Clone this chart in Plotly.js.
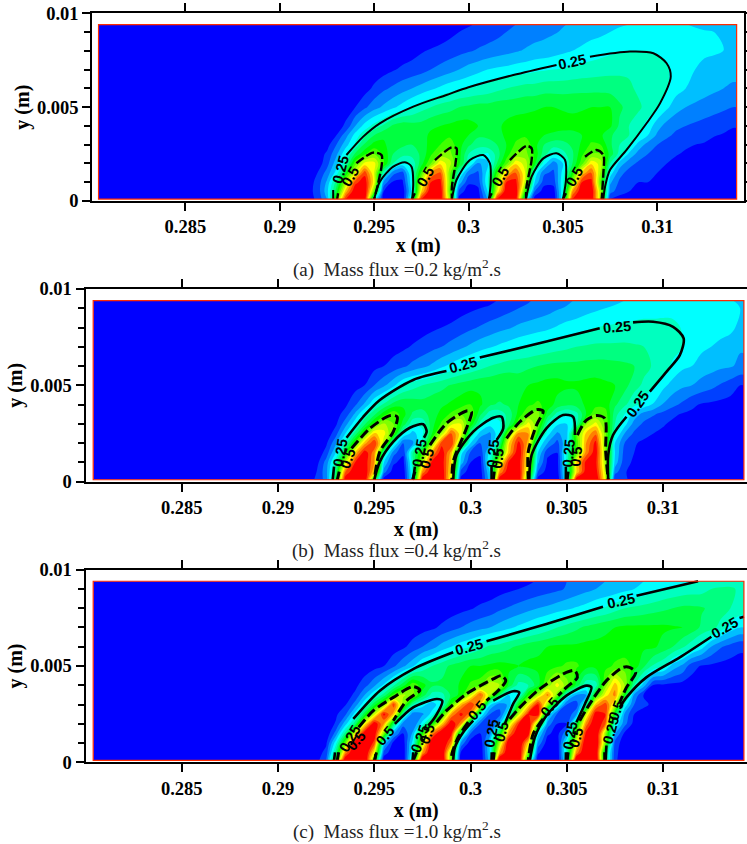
<!DOCTYPE html>
<html><head><meta charset="utf-8">
<script src="https://cdn.plot.ly/plotly-2.35.2.min.js"></script>
<style>html,body{margin:0;padding:0;background:#fff}#c{width:747px;height:844px}</style>
</head><body><div id="c"></div>
<script>
const xMm=[291.5,292,292.5,293,293.5,294,294.5,295,295.5,296,296.5,297,297.5,298,298.5,299,299.5,300,300.5,301,301.5,302,302.5,303,303.5,304,304.5,305,305.5,306,306.5,307,307.5,308,308.5,309,309.5,310,310.5,311,311.5,312,312.5,313,313.5,314];
const yMm=[0.1,0.5,1,1.5,2,2.5,3,3.5,4,5,6,7,8,9,9.4];
const fieldX=[280.4,314.2];
const fieldY=[0.1,9.4];
const zA=[
[3,6,15,48,80,85,85,25,2,0, 0,30,80,85,85,55,3,0,2,15, 82,85,85,28,2,0,0,25,80,85, 85,55,5,3,2,2,1,1,0,0, 0,0,0,0,0,0],
[3,7,18,38,68,86,86,50,5,1, 1,22,65,86,86,50,8,2,3,20, 60,86,86,45,10,2,2,25,70,86, 86,55,12,7,5,5,5,3,3,2, 2,2,1,1,1,1],
[2,7,16,32,55,78,84,62,14,4, 4,24,58,80,82,52,18,6,7,24, 52,80,82,58,20,7,7,24,52,80, 82,48,16,9,6,5,5,3,3,2, 2,2,1,1,1,1],
[0,5,12,22,40,60,78,60,28,12, 8,26,46,70,76,52,27,12,9,22, 45,66,76,60,24,11,9,22,42,66, 76,54,23,12,8,6,5.5,5,4,3, 2.5,2,2,1,1,1],
[.5,2,8,18,29,48,62,62,46,30, 23,26,38,50,64,57,42,26,14,18, 35,48,64,58,42,22,12,20,35,48, 64,58,30,18,12,9,7,6,5,3, 2,2,2,1,1,1],
[0,2,6,14,24,36,44,50,44,35, 32,32,36,44,51,52,42,30,26,24, 32,42,51,52,44,32,25,28,34,44, 50,50,38,28,19,13,10,8,7,5.5, 4,3.5,3,3,2,2],
[0,1,3,10,18,26,36,42,41,37, 36,35,37,42,45,48,42,36,32,33, 35,40,46,49,42,35,32,33,36,41, 46,45,36,30,26,18,13,10,8,7, 6,5,4.5,4,3.5,3],
[0,0,1.5,5,13,22,29,35,39,40, 39,36,38,41,43,44,43,40,36,36, 38,41,43,44,41,40,39,38,38,40, 42,41,36,32,30,25,20,14,11,9, 8,7.2,6.6,5.2,4.7,4.3],
[0,0,.5,2.5,6,15,22,27,31,36, 38,37,37,39,40,41,42,42,40,39, 39,41,42,42,42,42,42,42,42,42, 42,42,41,34,30,27,23,17,13,11, 10,9,8,7,6,5.2],
[0,0,0,.5,2.5,5,9,13,16,19, 22,25,28,30,32,33,35,36,37,37, 38,38,38.5,39,39.5,40,40,39.5,39,39.5, 40,40,40,36,33,31,28,25.5,21,17, 15,14,13,12,11,10],
[0,0,0,0,0,1,3,6,9,11, 13,15,17,19,21,23,24,25,26,27, 28.5,30,31,32,32,33,33,33,33.5,33.5, 33.5,33.5,33,32,31,29,27.5,26.5,25.5,22, 20,18,17,16,15,14.5],
[0,0,0,0,0,0,1,2,3,4.5, 6,7,8,10,11.5,13,15,17,18.5,20, 21,21.5,22.5,23,24,24.5,25,25.5,26,27, 27.5,28,28.5,29,29,28.5,28,27,25.5,23, 21.5,20,18.5,17.8,17,16],
[0,0,0,0,0,0,0,0,.5,1, 2,3,4.5,5.5,6.5,7.5,8.5,9.5,10.5,11.5, 12.5,13.5,14.5,15.5,16.5,17,18,19,20,21, 22,23,24,24.5,25,25,25,24.5,23.5,23, 22,21.5,21,20.7,20.2,18.5],
[0,0,0,0,0,0,0,0,0,0, 0,.3,.7,1.2,2,3.5,5,6,7,7.5, 8.5,10,11,12,13,13.7,14.5,15.5,16.5,17.5, 18.5,19,20,20.7,21,21.5,21.7,22,22,21.5, 21,20.8,20.5,20,18.5,17],
[0,0,0,0,0,0,0,0,0,0, 0,0,.3,.7,1.2,2,3,4.5,5.5,6.5, 7.5,8.5,10,11,12,12.7,13.5,14.7,15.5,16.5, 17.3,18,19,19.6,20,20.5,20.6,20.6,20.6,20.5, 20.1,19.5,18.5,17.5,16.5,15.5]
];
const zB=[
[2,6,12,38,85,88,88,40,2,0, 0,25,85,88,88,58,3,0,1,18, 85,88,88,45,2,0,0,25,85,88, 88,60,5,5.5,4,3,2,1,1,0, 0,0,0,0,0,0],
[2,5,13,33,75,86,86,65,12,2, 1,26,72,86,86,62,8,2,2,20, 70,86,86,55,10,2,2,26,65,84, 84,58,12,5.5,3,2.5,2,2,1,1, 1,1,1,1,1,1],
[0,3,12,28,58,80,84,70,20,6, 3,28,56,82,84,65,18,5,3,25, 58,82,84,60,16,4,3,26,65,82, 82,55,18,7,4,3,2,2,2,2, 1,1,1,1,1,1],
[0,1,7,20,40,66,84,72,30,12, 6,30,46,70,84,68,22,9,6,22, 42,68,86,62,20,6,5,26,48,72, 84,54,20,8,5,3.5,2.5,2,2,2, 1,1,1,1,1,1],
[0,0,4,14,28,47,68,80,56,26, 10,14,28,52,78,80,50,20,10,14, 32,65,82,68,25,15,8,20,46,70, 82,52,20,10,5.5,4,3,2,2,2, 1,1,1,1,1,1],
[0,0,1,8,20,32,48,66,62,48, 25,18,24,40,56,76,62,30,18,14, 24,52,72,70,42,22,14,18,48,66, 74,52,26,15,9,6.5,5,4,3.5,3, 2.5,2,2,1.5,1,1],
[0,0,1.5,4,13,23,34,46,56,50, 38,26,26,38,46,58,60,44,28,22, 24,34,49,62,50,28,21,20,28,54, 62,50,30,22,13,9,7.5,5.5,4,3, 2.5,2,2,1.5,1.5,1],
[0,0,1,3,7,16,26,34,43,49, 42,34,33,37,42,46,50,50,36,27, 27,32,42,50,52,38,28,24,28,40, 50,48,32,25,18,13,10.5,8.5,6,4.5, 4,3.5,3,2.5,2,1.5],
[0,0,0,1.5,4,9,16,25,31,37, 39,38,37,38,39,41,43,45,41,36, 34,36,40,44,46,43,38,36,37,41, 43,43,36,31,26.5,23,19.5,14.5,11.5,9, 6,4.5,4,3.5,3,2.5],
[0,0,0,.5,1.5,3,5,10,14,19, 25,28,30,32,33.5,35.5,37,38,39,39, 40,39,37.5,40,41,42,42,41,41,41.5, 42,41,40,37,32,29,25.5,21.5,18,16, 15,13,11.5,9.5,7.5,5],
[0,0,0,0,0,1,2,3.5,5,7, 9,11.5,13.5,16,19,21.5,24,26,28,30, 31.5,33,33.5,34,35,36,36.5,36.5,36.5,37, 37,37,36.5,36,35,31.5,29.5,27.5,24,21, 20,18,17,16,15.5,14],
[0,0,0,0,0,0,0,1,2,3, 4,5.5,7,8.5,10,12,14,16,18,19.5, 21,22.5,24,25,26,27,28,29,30,30.5, 31,31,31,31,30.5,30,29,28,27,25, 22.5,21,20,19,18,15.5],
[0,0,0,0,0,0,0,0,0,0, 1,2,3,4,5,6,7.5,9,10.5,12, 13.5,14.5,16,17,18,19,20.5,22,23,24, 25,25.5,26,26.5,27,27.5,27.5,27.5,27,24.5, 24,23,22,21.5,21,19],
[0,0,0,0,0,0,0,0,0,0, 0,0,0,0,1,2,3,4,5,6, 7,8.5,10,11,12,13,14.5,15.5,16.5,18, 19,20,20.5,21,21.5,22,22,22.5,22.5,22.5, 22.5,22.5,22,21.5,21,20],
[0,0,0,0,0,0,0,0,0,0, 0,0,0,0,0,0,1,2,3,3.5, 5.5,6.5,8,9.5,11,12,13,14,15.5,16.5, 17.5,18.5,19.3,20,20.5,20.8,21,21,21,21, 21,21,20.8,20.5,20.2,19.5]
];
const zC=[
[1,3,10,42,88,92,92,45,1,0, 0,30,90,92,92,50,1,0,0,18, 90,92,92,35,1,0,0,24,90,92, 92,35,6,2,1,0,0,0,0,0, 0,0,0,0,0,0],
[0,2,7,32,72,90,90,62,8,1, 1,25,70,90,90,52,4,0,0,20, 68,90,90,52,6,0,0,28,72,90, 90,34,7,1,0,0,0,0,0,0, 0,0,0,0,0,0],
[0,0,4,23,50,86,90,78,20,3, 2,22,55,88,90,72,14,2,1,20, 55,88,90,65,14,2,1,25,60,88, 90,52,8,2,1,0,0,0,0,0, 0,0,0,0,0,0],
[0,0,1,12,32,60,85,85,52,16, 5,16,44,72,88,82,33,10,5,12, 38,72,88,85,22,6,3,14,50,82, 90,55,16,4,2,1,0,0,0,0, 0,0,0,0,0,0],
[0,0,2,5.5,18,33,62,85,70,35, 12,10,22,42,65,86,72,25,10,7, 18,58,80,88,52,13,5,5,37,72, 88,75,25,12,3,2,1,0,0,0, 0,0,0,0,0,0],
[0,0,1,4,9,22,38,58,82,68, 30,12,14,22,42,70,82,72,25,10, 8,26,58,80,85,24,9,6,14,58, 84,80,40,14,5,3,1,0,0,0, 0,0,0,0,0,0],
[0,0,0,1.5,4.5,12,24,38,52,78, 52,30,22,17,24,46,68,80,66,21, 12,16,42,62,82,55,28,10,7,28, 68,78,58,24,10,6,4,2,1,0, 0,0,0,0,0,0],
[0,0,0,.5,2.5,6,15,24,32,46, 56,52,38,28,28,36,42,58,76,56, 36,20,24,44,56,72,52,25,15,15, 44,62,72,42,14,4.5,3,2,2,1, 1,1,1,0,0,0],
[0,0,0,0,1,3.5,8,14,21,29, 38,49,42,36,36,37,41,46,48,58, 56,38,28,30,38,52,62,52,38,26, 27,52,68,55,30,17,4.5,4,3.5,3, 2.5,2.5,2,2,1.5,1.5],
[0,0,0,0,0,.5,1.5,3,5,9, 14,19,26,30,33,36,38,40,40,41, 42,41,40,41,41,42,44,46,46,42, 42,43,46,48,43,36,29,26,18,14, 7,4.5,4,3.5,3,3],
[0,0,0,0,0,0,0,.5,1.5,2.5, 4,7,10,13,17,20,23,25,28,31, 32,34,36,38,39,40,41,41,41,41.5, 41.5,41.5,41.5,41,41,41,41,38,35,31, 26.5,22,15,10.5,8,6],
[0,0,0,0,0,0,0,0,0,0, 1,2,3,4,6,8,10,12,13.5,15, 17,19,21,23,25,27.5,30,32,34,36, 37.5,39,40,41,41,41,41,41,40.5,40, 38,34,32,28,23,20],
[0,0,0,0,0,0,0,0,0,0, 0,0,0,.5,1.5,2.5,3.5,4.5,6,7, 9,10.5,12,13.5,15,16,17.5,19,20.5,22, 24,25.5,28,30,31,32,33,34,35,36, 36,35.5,34,32.5,30,28],
[0,0,0,0,0,0,0,0,0,0, 0,0,0,0,0,0,0,0,1,2, 3,4,5,6,7,8,9,10.5,12,13.5, 15,16,17,18.5,20,21,23,25,26,27, 27.5,28,30,31,31,29],
[0,0,0,0,0,0,0,0,0,0, 0,0,0,0,0,0,0,0,0,0, 1,2,3,4,5.5,7,8.5,10,11,12, 13.5,15,16,17,18,20,21,21.5,22.5,23.5, 24.5,25.5,26,26.5,27,27]
];
const solidA=[[292.83,.1],[292.83,.59],null,[293.53,2.45],[294.42,3.43],[295.3,4.14],[297.07,5.03],[298.83,5.65],[300,6.06],[302.37,6.71],[304.66,7.25],null,[306.43,7.69],[308.55,7.96],[309.79,7.87],[310.49,7.34],[310.71,6.63],[310.14,5.2],[309.43,4.14],[308.37,2.72],[307.49,1.65],[307.23,.76],[307.14,.1],null,
[295,.1],[295.3,1.03],[296.01,1.83],[296.63,2.06],[296.98,1.83],[297.07,.94],[297.01,.1],null,
[299.12,.1],[299.36,1.12],[300.07,2.18],[300.78,2.45],[301.13,2.01],[301.17,.94],[301.08,.1],null,
[303.04,.1],[303.34,1.3],[303.96,2.27],[304.66,2.54],[305.11,2.18],[305.16,1.12],[305,.1]];
const dashA=[[293.04,.1],[293.09,.41],null,[294.06,2.01],[294.95,2.58],[295.39,2.45],[295.39,1.83],[295.21,.94],[295,.1],null,
[297.01,.1],[297.15,.41],null,[298.22,2.18],[299.1,2.86],[299.36,2.81],[299.31,2.01],[299.12,.76],[299.12,.1],null,
[301.08,.1],[301.22,.41],null,[302.19,2.18],[303.07,2.93],[303.34,2.81],[303.34,2.18],[303.07,.76],[303.04,.1],null,
[305,.1],[305.16,.41],null,[306.17,2.36],[306.78,2.72],[307.14,2.45],[307.14,1.47],[307.05,.1]];
const solidB=[[292.84,.1],[292.91,.78],null,[293.56,2.28],[294.43,3.37],[295.29,4.24],[297.02,5.28],[298.75,5.74],null,[300.48,6.44],[303.94,7.27],[306.71,7.96],null,[308.44,8.27],[309.48,8.3],[310.52,8.04],[311.07,7.44],[310.87,6.57],[310.26,5.8],[309.31,4.67],null,[308.1,3.37],[307.4,2.42],[307.15,1.38],[307.15,.1],null,
[295,.1],[295.29,1.04],[295.99,2.08],[296.85,2.8],[297.54,2.98],[297.72,2.6],[297.58,2.28],null,[297.02,.1],[297.11,.78],null,
[299.1,.1],[299.27,1.38],[300.14,2.6],[301.18,3.32],[301.61,3.37],[301.7,2.77],[301.35,2.16],null,[301.09,.1],[301.09,.78],null,
[303.05,.1],[303.17,1.38],[303.94,2.77],[304.81,3.46],[305.33,3.37],[305.42,2.42],null,[304.95,.1],[304.95,.78]];
const dashB=[[293.08,.1],[293.18,.52],null,[293.82,1.73],[294.78,2.77],[295.81,3.43],[296.19,3.37],[295.99,2.6],[295.29,1.56],[295,.1],null,
[296.99,.1],[297.11,.52],null,[297.89,1.9],[298.75,3.03],[299.79,3.67],[300.05,3.63],[299.79,2.77],[299.1,1.04],[299.03,.1],null,
[301.18,.1],[301.23,.52],null,[301.87,2.25],[302.56,3.11],[303.43,3.74],[303.77,3.67],[303.43,2.94],[303,1.56],[303,.1],null,
[305.02,.1],[305.07,.52],null,[305.55,2.42],[306.02,3.2],[306.54,3.43],[306.97,3.29],[307.02,1.56],[307.15,.1]];
const solidC=[[292.91,.1],[292.96,.52],null,[293.91,2.25],[295.29,3.72],[297.02,4.84],[299.1,5.71],null,[300.83,6.28],[303.94,7.18],[306.88,8.08],null,[308.62,8.65],[311.82,9.4],null,
[314.2,7.56],[313.97,7.49],null,[312.51,6.52],[310.87,5.45],[309.13,4.41],[308.1,3.37],[307.75,2.85],null,[307.02,.1],[307.06,.87],null,
[295,.1],[295.12,.52],null,[296.07,1.99],[297.02,2.85],[298.24,3.29],[298.53,3.2],[298.15,2.34],[297.8,1.9],null,[296.99,.1],[297.02,.52],null,
[299.1,.1],[299.19,.78],[299.62,1.56],[300.14,2.16],null,[301.18,3.2],[302.21,3.69],[302.53,3.63],[302.21,3.03],[301.78,1.99],null,[301.09,.1],[301.1,.52],null,
[303.08,.1],[303.34,1.3],[303.94,2.42],[304.98,3.46],[306.02,3.98],[306.28,3.89],[305.94,3.03],[305.5,2.08],null,[304.95,.1],[304.95,.52]];
const dashC=[[293.08,.1],[293.15,.52],null,[294.19,1.82],[294.95,2.68],[295.99,3.37],[297.02,3.93],[297.37,3.75],[296.68,3.2],[295.99,2.16],null,[295.03,.1],[295.08,.43],null,
[297.02,.1],[297.2,.52],null,[298.24,2.08],[298.75,2.68],[299.79,3.55],[301.18,4.33],[301.61,4.5],[301.83,4.24],[301.52,3.81],[300.83,3.2],null,[299.88,2.08],[299.36,1.3],[299.03,.43],[299.03,.1],null,
[301.18,.1],[301.23,.52],null,[302.04,2.25],[302.56,2.85],[303.6,3.81],[304.98,4.67],[305.42,4.76],[305.55,4.41],[304.98,3.89],[304.55,3.46],null,[303.77,2.25],[303.25,1.47],[303,.1],null,
[305.02,.1],[305.07,.52],null,[305.67,2.16],[306.19,3.03],[307.06,4.24],[307.92,4.93],[308.26,4.93],[308.58,4.67],[308.1,3.89],[307.75,3.11],null,[306.97,.1],[306.97,.52]];
const labelsA=[["0.25",305.46,7.42,-12],["0.25",293.22,1.65,-75],["0.5",293.71,1.3,-60],["0.5",297.69,1.3,-60],["0.5",301.66,1.3,-60],["0.5",305.58,1.3,-60]];
const labelsB=[["0.25",307.61,8.04,-5],["0.25",299.62,6.06,-15],["0.25",308.7,4.01,-55],["0.25",293.25,1.47,-80],["0.5",293.65,1.21,-70],["0.25",297.37,1.47,-80],["0.5",297.75,1.21,-75],["0.25",301.18,1.47,-85],["0.5",301.44,1.21,-85],["0.25",305.12,1.47,-85],["0.5",305.47,1.3,-85]];
const labelsC=[["0.25",299.93,6,-15],["0.25",307.79,8.39,-12],["0.25",313.2,6.95,-30],["0.25",293.72,1.21,-60],["0.5",294.05,1.12,-50],["0.5",295.55,1.38,-50],["0.25",297.37,1.21,-70],["0.5",297.75,1.47,-70],["0.5",300.31,2.68,-50],["0.25",301.09,1.47,-80],["0.5",301.61,1.56,-75],["0.5",304.12,2.85,-50],["0.25",305.16,1.38,-80],["0.5",305.5,1.3,-75],["0.25",307.27,1.64,-75],["0.5",307.54,2.68,-70]];
const xTickVals=[0.285,0.29,0.295,0.3,0.305,0.31];
const xTickText=["0.285","0.29","0.295","0.3","0.305","0.31"];
const yTickVals=[0,0.005,0.01];
const yTickText=["0","0.005","0.01"];
const captions=["(a)  Mass flux =0.2 kg/m<sup>2</sup>.s","(b)  Mass flux =0.4 kg/m<sup>2</sup>.s","(c)  Mass flux =1.0 kg/m<sup>2</sup>.s"];
const bandColors=["#0000ff","#0040ff","#0080ff","#00bfff","#00ffff","#00ffbf","#00ff80","#00ff40","#00ff00","#40ff00","#80ff00","#bfff00","#ffff00","#ffbf00","#ff8000","#ff4000","#ff0000"];

const W=747,H=844;
const panels=[
 {z:zA,s:solidA,d:dashA,l:labelsA,px:[92.3,744],py:[13.3,201],xr:[0.28007,0.31459],cap:268,dw:[9,3],lw:2.4},
 {z:zB,s:solidB,d:dashB,l:labelsB,px:[85.5,747],py:[289,481.7],xr:[0.28,0.31436],cap:549,dw:[10,4],lw:3},
 {z:zC,s:solidC,d:dashC,l:labelsC,px:[85.5,747],py:[569.7,762.3],xr:[0.28,0.31436],cap:830.5,dw:[10,4],lw:3}
];
const serif='"Liberation Serif","Times New Roman",serif';
const sans='"Liberation Sans",Arial,sans-serif';
const toM=v=>v/1000;
const xGrid=[fieldX[0],291].concat(xMm,[fieldX[1]]).map(toM);
const yGrid=yMm.map(toM);
const scale=bandColors.map((c,i)=>[i/(bandColors.length-1),c]);
const traces=[],annotations=[],shapes=[];
const layout={width:W,height:H,margin:{l:0,r:0,t:0,b:0},paper_bgcolor:"#fff",plot_bgcolor:"#fff",showlegend:false,hovermode:false};
panels.forEach((p,i)=>{
  const n=i?String(i+1):"";
  const xa="x"+n, ya="y"+n;
  traces.push({type:"contour",x:xGrid,y:yGrid,z:p.z.map(r=>[0,0].concat(r,[r[r.length-1]])),xaxis:xa,yaxis:ya,
    autocontour:false,contours:{coloring:"fill",start:5,end:80,size:5,showlines:false},line:{width:0,smoothing:1},
    colorscale:scale,zauto:false,showscale:false});
  traces.push({type:"scatter",mode:"lines",xaxis:xa,yaxis:ya,x:p.s.map(q=>q?toM(q[0]):null),y:p.s.map(q=>q?toM(q[1]):null),
    line:{color:"#000",width:p.lw-0.4,shape:"spline",smoothing:0.8},connectgaps:false});
  traces.push({type:"scatter",mode:"lines",xaxis:xa,yaxis:ya,x:p.d.map(q=>q?toM(q[0]):null),y:p.d.map(q=>q?toM(q[1]):null),
    line:{color:"#000",width:p.lw,shape:"spline",smoothing:0.8,dash:p.dw[0]+"px,"+p.dw[1]+"px"},connectgaps:false});
  shapes.push({type:"rect",xref:xa,yref:ya,x0:toM(fieldX[0]),x1:toM(fieldX[1]),y0:toM(fieldY[0]),y1:toM(fieldY[1]),line:{color:"#ff2a00",width:1.2},layer:"above"});
  layout["xaxis"+n]={domain:[p.px[0]/W,p.px[1]/W],range:p.xr,anchor:ya,tickmode:"array",tickvals:xTickVals,ticktext:xTickText.map(t=>"<b>"+t+"</b>"),
    ticks:"outside",ticklen:8,tickwidth:2,tickcolor:"#000",linecolor:"#000",linewidth:2,mirror:"ticks",showgrid:false,zeroline:false,
    tickfont:{family:serif,size:18.5,color:"#000"},title:{text:"<b>x (m)</b>",font:{family:serif,size:20,color:"#000"},standoff:2},automargin:false};
  layout["yaxis"+n]={domain:[1-p.py[1]/H,1-p.py[0]/H],range:[0,0.01],anchor:xa,tickmode:"array",tickvals:yTickVals,ticktext:yTickText.map(t=>"<b>"+t+"</b>"),
    ticks:"outside",ticklen:8,tickwidth:2,tickcolor:"#000",linecolor:"#000",linewidth:2,mirror:"ticks",showgrid:false,zeroline:false,
    minor:{dtick:0.001,tick0:0,ticks:"outside",ticklen:6,tickwidth:2,tickcolor:"#000",showgrid:false},
    tickfont:{family:serif,size:18.5,color:"#000"},title:{text:"<b>y (m)</b>",font:{family:serif,size:20,color:"#000"},standoff:2},automargin:false};
  p.l.forEach(a=>annotations.push({xref:xa,yref:ya,x:toM(a[1]),y:toM(a[2]),text:"<b>"+a[0]+"</b>",textangle:a[3],showarrow:false,borderpad:0,
    font:{family:sans,size:14.5,color:"#000"}}));
  annotations.push({xref:"paper",yref:"paper",x:396.7/W,y:1-p.cap/H,text:captions[i],showarrow:false,xanchor:"center",yanchor:"middle",
    font:{family:serif,size:19,color:"#222"}});
});
layout.annotations=annotations;layout.shapes=shapes;
Plotly.newPlot("c",traces,layout,{staticPlot:true,displayModeBar:false});
</script></body></html>
